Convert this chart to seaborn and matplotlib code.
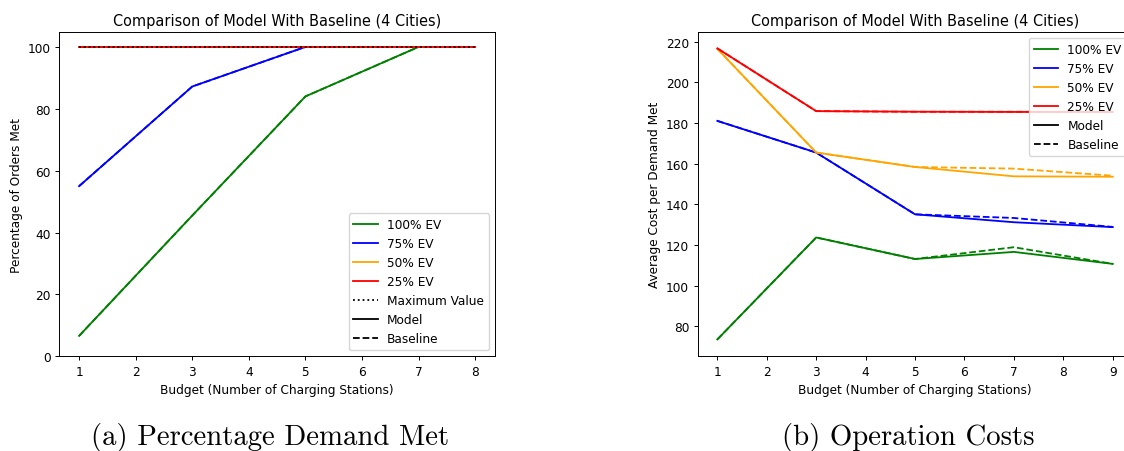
import matplotlib
matplotlib.use("Agg")
import matplotlib.pyplot as plt
from matplotlib.lines import Line2D
import seaborn as sns

# ---- data ----
ev_levels = ["100% EV", "75% EV", "50% EV", "25% EV"]
ev_colors = ["green", "blue", "orange", "red"]

budget_a = [1, 3, 5, 7, 8]
pct_model = {
    "100% EV": [6.6, 45.5, 84.0, 100.0, 100.0],
    "75% EV": [55.0, 87.2, 100.0, 100.0, 100.0],
    "50% EV": [100.0, 100.0, 100.0, 100.0, 100.0],
    "25% EV": [100.0, 100.0, 100.0, 100.0, 100.0],
}
pct_baseline = {
    "100% EV": [6.6, 45.5, 84.0, 100.0, 100.0],
    "75% EV": [55.0, 87.2, 100.0, 100.0, 100.0],
    "50% EV": [100.0, 100.0, 100.0, 100.0, 100.0],
    "25% EV": [100.0, 100.0, 100.0, 100.0, 100.0],
}
max_value = [100.0, 100.0, 100.0, 100.0, 100.0]

budget_b = [1, 3, 5, 7, 9]
cost_model = {
    "100% EV": [73.5, 123.7, 113.1, 116.6, 110.7],
    "75% EV": [181.1, 165.5, 135.1, 131.2, 128.8],
    "50% EV": [216.6, 165.5, 158.4, 153.8, 153.6],
    "25% EV": [216.8, 185.9, 185.6, 185.5, 185.5],
}
cost_baseline = {
    "100% EV": [73.5, 123.7, 113.1, 118.9, 110.7],
    "75% EV": [181.1, 165.5, 135.1, 133.3, 128.9],
    "50% EV": [216.6, 165.5, 158.4, 157.6, 154.1],
    "25% EV": [216.8, 185.9, 185.6, 185.6, 185.5],
}

xticks_a = [1, 2, 3, 4, 5, 6, 7, 8]
xticks_b = [1, 2, 3, 4, 5, 6, 7, 8, 9]
yticks_a = [0, 20, 40, 60, 80, 100]
yticks_b = [80, 100, 120, 140, 160, 180, 200, 220]

title = "Comparison of Model With Baseline (4 Cities)"
xlabel = "Budget (Number of Charging Stations)"
ylabel_a = "Percentage of Orders Met"
ylabel_b = "Average Cost per Demand Met"
caption_a = "(a) Percentage Demand Met"
caption_b = "(b) Operation Costs"

# ---- figure ----
S = 0.87
plt.rcParams.update({
    "font.size": 10 * S,
    "axes.titlesize": 12 * S,
    "axes.labelsize": 10 * S,
    "xtick.labelsize": 10 * S,
    "ytick.labelsize": 10 * S,
    "legend.fontsize": 10 * S,
    "lines.linewidth": 1.5 * S,
    "axes.linewidth": 0.8 * S,
    "xtick.major.size": 3.5 * S,
    "ytick.major.size": 3.5 * S,
    "xtick.major.width": 0.8 * S,
    "ytick.major.width": 0.8 * S,
    "xtick.major.pad": 3.5 * S,
    "ytick.major.pad": 3.5 * S,
    "axes.titlepad": 6 * S,
    "axes.labelpad": 4 * S,
})

fig = plt.figure(figsize=(11.24, 4.52), dpi=100)
ax1 = fig.add_axes([0.05276, 0.2095, 0.3876, 0.7177])
ax2 = fig.add_axes([0.6206, 0.2095, 0.3870, 0.7177])

lw = 1.5 * S
# Panel (a)
for lvl, col in zip(ev_levels, ev_colors):
    sns.lineplot(x=budget_a, y=pct_model[lvl], ax=ax1, color=col, linestyle="-", lw=lw)
    sns.lineplot(x=budget_a, y=pct_baseline[lvl], ax=ax1, color=col, linestyle="--", lw=lw)
sns.lineplot(x=budget_a, y=max_value, ax=ax1, color="black", linestyle=":", lw=lw)

ax1.set_xlim(0.65, 8.35)
ax1.set_ylim(0, 104.85)
ax1.set_xticks(xticks_a)
ax1.set_yticks(yticks_a)
ax1.set_title(title)
ax1.set_xlabel(xlabel)
ax1.set_ylabel(ylabel_a)

handles_a = [Line2D([], [], color=c, lw=lw) for c in ev_colors] + [
    Line2D([], [], color="black", ls=":", lw=lw),
    Line2D([], [], color="black", ls="-", lw=lw),
    Line2D([], [], color="black", ls="--", lw=lw),
]
labels_a = ev_levels + ["Maximum Value", "Model", "Baseline"]
ax1.legend(handles_a, labels_a, loc="lower right")

# Panel (b)
for lvl, col in zip(ev_levels, ev_colors):
    sns.lineplot(x=budget_b, y=cost_model[lvl], ax=ax2, color=col, linestyle="-", lw=lw)
    sns.lineplot(x=budget_b, y=cost_baseline[lvl], ax=ax2, color=col, linestyle="--", lw=lw)

ax2.set_xlim(0.6, 9.4)
ax2.set_ylim(65.2, 224.9)
ax2.set_xticks(xticks_b)
ax2.set_yticks(yticks_b)
ax2.set_title(title)
ax2.set_xlabel(xlabel)
ax2.set_ylabel(ylabel_b)

handles_b = [Line2D([], [], color=c, lw=lw) for c in ev_colors] + [
    Line2D([], [], color="black", ls="-", lw=lw),
    Line2D([], [], color="black", ls="--", lw=lw),
]
labels_b = ev_levels + ["Model", "Baseline"]
ax2.legend(handles_b, labels_b, loc="upper right")

# captions
fig.text(0.2402, 0.033, caption_a, ha="center", va="center", fontsize=20.7, family="cmr10")
fig.text(0.8078, 0.033, caption_b, ha="center", va="center", fontsize=20.7, family="cmr10")

fig.savefig("out.png", dpi=100)
